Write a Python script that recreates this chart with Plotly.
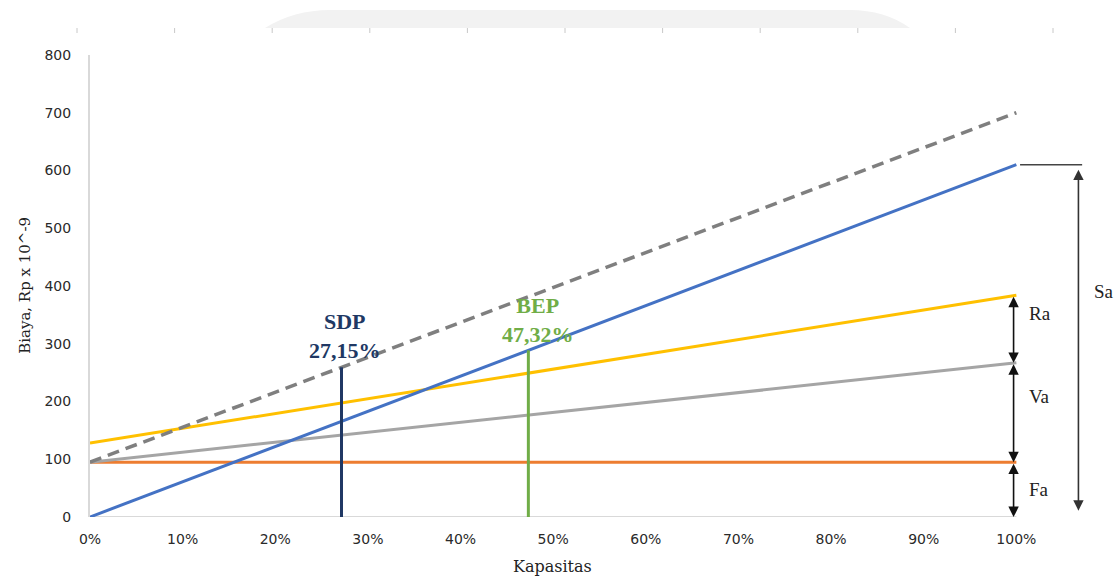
import plotly.graph_objects as go

# Capacity axis (fraction of full capacity) and cost lines, Rp x 10^-9
capacity = [0.0, 1.0]
sales_sa = [0, 610]          # Sa  - penjualan
sdp_line = [95, 700]         # garis SDP (putus-putus)
total_ra = [128, 384]        # Ra  - biaya total
semi_var = [95, 267]         # Va  - biaya variabel
fixed_fa = [95, 95]          # Fa  - biaya tetap

sdp_pct = 0.2715
bep_pct = 0.4732

x_ticks = [0.0, 0.1, 0.2, 0.3, 0.4, 0.5, 0.6, 0.7, 0.8, 0.9, 1.0]
x_ticktext = ["0%", "10%", "20%", "30%", "40%", "50%", "60%", "70%", "80%", "90%", "100%"]
y_ticks = [0, 100, 200, 300, 400, 500, 600, 700, 800]

BLUE = "#4472c4"
ORANGE = "#ed7d31"
GRAY = "#a5a5a5"
YELLOW = "#ffc000"
DASH = "#7f7f7f"
NAVY = "#203864"
GREEN = "#70ad47"
SERIF = "Liberation Serif, Times New Roman, serif"
TITLE_SERIF = "DejaVu Serif, Cambria, serif"
SANS = "DejaVu Sans, Verdana, sans-serif"


def value_at(line, frac):
    return line[0] + (line[1] - line[0]) * frac


fig = go.Figure()

fig.add_trace(go.Scatter(x=capacity, y=fixed_fa, mode="lines",
                         line=dict(color=ORANGE, width=3)))
fig.add_trace(go.Scatter(x=capacity, y=semi_var, mode="lines",
                         line=dict(color=GRAY, width=3)))
fig.add_trace(go.Scatter(x=capacity, y=total_ra, mode="lines",
                         line=dict(color=YELLOW, width=3)))
fig.add_trace(go.Scatter(x=capacity, y=sdp_line, mode="lines",
                         line=dict(color=DASH, width=3.5, dash="12px,7px")))
fig.add_trace(go.Scatter(x=capacity, y=sales_sa, mode="lines",
                         line=dict(color=BLUE, width=3)))

# SDP and BEP markers
fig.add_trace(go.Scatter(x=[sdp_pct, sdp_pct], y=[0, value_at(sdp_line, sdp_pct)],
                         mode="lines", line=dict(color=NAVY, width=3)))
fig.add_trace(go.Scatter(x=[bep_pct, bep_pct], y=[0, value_at(sales_sa, bep_pct)],
                         mode="lines", line=dict(color=GREEN, width=3)))

annotations = [
    dict(x=sdp_pct + 0.004, y=313, xref="x", yref="y", showarrow=False,
         text="<b>SDP</b><br><b>27,15%</b>", xanchor="center", yanchor="middle",
         font=dict(family=SERIF, size=22, color=NAVY), align="center"),
    dict(x=bep_pct + 0.01, y=341, xref="x", yref="y", showarrow=False,
         text="<b>BEP</b><br><b>47,32%</b>", xanchor="center", yanchor="middle",
         font=dict(family=SERIF, size=22, color=GREEN), align="center"),
    dict(x=0.454, y=-0.108, xref="paper", yref="paper", showarrow=False,
         xanchor="center", yanchor="middle",
         text="Kapasitas", font=dict(family=TITLE_SERIF, size=16, color="#222222")),
    dict(x=-0.064, y=0.502, xref="paper", yref="paper", showarrow=False,
         xanchor="center", yanchor="middle",
         text="Biaya, Rp x 10^-9", textangle=-90,
         font=dict(family=TITLE_SERIF, size=15, color="#222222")),
]

# Dimension arrows on the right side
arrow_x = 0.997
segments = [(total_ra[1], semi_var[1]), (semi_var[1], fixed_fa[1]), (fixed_fa[1], 0)]
for top, bottom in segments:
    annotations.append(dict(x=arrow_x, y=bottom, ax=arrow_x, ay=top,
                            xref="x", yref="y", axref="x", ayref="y",
                            text="", showarrow=True, arrowhead=2, arrowside="end+start",
                            arrowsize=1.3, arrowwidth=1.6, arrowcolor="#111111",
                            standoff=0, startstandoff=0))
sa_x = 1.067
annotations.append(dict(x=sa_x, y=11, ax=sa_x, ay=sales_sa[1] - 6,
                        xref="x", yref="y", axref="x", ayref="y",
                        text="", showarrow=True, arrowhead=2, arrowside="end+start",
                        arrowsize=1.3, arrowwidth=1.6, arrowcolor="#333333"))

for label, yy, xx in [("Ra", 353, 1.012), ("Va", 208, 1.012), ("Fa", 47, 1.012), ("Sa", 390, 1.082)]:
    annotations.append(dict(x=xx, y=yy, xref="x", yref="y", showarrow=False,
                            text=label, xanchor="left", yanchor="middle",
                            font=dict(family=SERIF, size=19, color="#222222")))

shapes = [
    # baseline of the capacity axis
    dict(type="line", xref="x", yref="y", x0=0, x1=1, y0=0, y1=0,
         line=dict(color="#d9d9d9", width=2), layer="below"),
    # Sa reference line from the sales line end
    dict(type="line", xref="x", yref="y", x0=1.004, x1=1.071,
         y0=sales_sa[1], y1=sales_sa[1], line=dict(color="#444444", width=1.5)),
    # faint header band above the plot
    dict(type="path", xref="paper", yref="paper",
         path="M 0.1717,1.0584 Q 0.20,1.0974 0.2355,1.0974 L 0.7458,1.0974 "
              "Q 0.78,1.0974 0.8047,1.0584 Z",
         fillcolor="#f2f2f2", line=dict(width=0), layer="below"),
]
for k in range(11):
    px = 77 + 97.6 * k
    xp = (px - 90) / 1019
    shapes.append(dict(type="line", xref="paper", yref="paper", x0=xp, x1=xp,
                       y0=1.0476, y1=1.0584, line=dict(color="#c8c8c8", width=1)))

fig.update_layout(
    width=1115, height=579,
    margin=dict(l=90, r=6, t=55, b=62),
    paper_bgcolor="white", plot_bgcolor="white",
    showlegend=False,
    annotations=annotations,
    shapes=shapes,
    xaxis=dict(range=[0, 1.1], tickvals=x_ticks, ticktext=x_ticktext,
               showgrid=False, zeroline=False, showline=False,
               ticklabelstandoff=12,
               tickfont=dict(family=SANS, size=14, color="#2a2a2a")),
    yaxis=dict(range=[0, 800], tickvals=y_ticks,
               showgrid=False, zeroline=False, showline=True,
               linecolor="#d9d9d9", linewidth=2,
               ticklabelstandoff=14,
               tickfont=dict(family=SANS, size=14, color="#2a2a2a")),
)

fig.write_html("out.html")
